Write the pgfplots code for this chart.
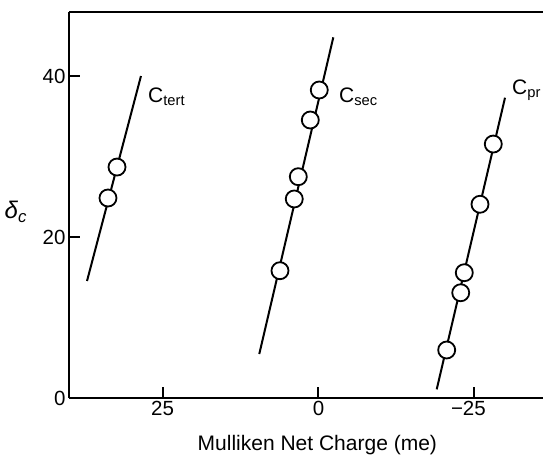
\documentclass[border=0pt]{standalone}
\usepackage{fontspec}
\setmainfont{Liberation Sans}
\usepackage{pgfplots}
\pgfplotsset{compat=1.18}

\begin{document}
\begin{tikzpicture}
\begin{axis}[
  at={(0pt,0pt)}, anchor=south west,
  width=474pt, height=386pt, scale only axis,
  x dir=reverse,
  xmin=-36, xmax=40, ymin=0, ymax=48,
  axis x line=box, axis y line=left,
  axis line style={-, line width=2pt},
  every tick/.style={black, line width=2pt},
  major tick length=11pt,
  tick align=inside,
  xtick pos=bottom, ytick pos=left,
  xtick={-25,0,25}, xticklabels={\llap{−}25,0,25},
  ytick={0,20,40},
  /pgf/number format/assume math mode=true,
  tick label style={font=\fontsize{20.5}{24}\selectfont},
  xlabel={Mulliken Net Charge (me)},
  xlabel style={font=\fontsize{21}{24}\selectfont, at={(axis description cs:0.524,-0.122)}, anchor=center},
  ylabel={\textit{δ}\textsubscript{\textit{c}}},
  ylabel style={font=\fontsize{24}{26}\selectfont, rotate=-90, at={(axis description cs:-0.112,0.482)}, anchor=center},
  clip=false,
]
% C_tert
\addplot[black, line width=2pt] coordinates {(37.11,14.55) (28.46,40.04)};
\addplot[only marks, mark=*, mark size=8.5pt, mark options={draw=black, fill=white, line width=1.8pt}]
  coordinates {(33.75,24.87) (32.30,28.72)};
% C_sec
\addplot[black, line width=2pt] coordinates {(9.49,5.47) (-2.38,44.85)};
\addplot[only marks, mark=*, mark size=8.5pt, mark options={draw=black, fill=white, line width=1.8pt}]
  coordinates {(-0.13,38.30) (1.31,34.57) (3.23,27.52) (3.88,24.75) (6.17,15.83)};
% C_pr
\addplot[black, line width=2pt] coordinates {(-18.96,1.08) (-29.91,37.34)};
\addplot[only marks, mark=*, mark size=8.5pt, mark options={draw=black, fill=white, line width=1.8pt}]
  coordinates {(-28.03,31.58) (-25.90,24.09) (-23.38,15.58) (-22.81,13.09) (-20.56,5.97)};
\node[anchor=base west, inner sep=0pt, font=\fontsize{21}{24}\selectfont] at (axis cs:27.33,36.7) {C\textsubscript{tert}};
\node[anchor=base west, inner sep=0pt, font=\fontsize{21}{24}\selectfont] at (axis cs:-3.29,36.8) {C\textsubscript{sec}};
\node[anchor=base west, inner sep=0pt, font=\fontsize{21}{24}\selectfont] at (axis cs:-31.03,37.7) {C\textsubscript{pr}};
\end{axis}
\pgfresetboundingbox
\useasboundingbox (-69pt,-57pt) rectangle (474pt,398pt);
\end{tikzpicture}
\end{document}
